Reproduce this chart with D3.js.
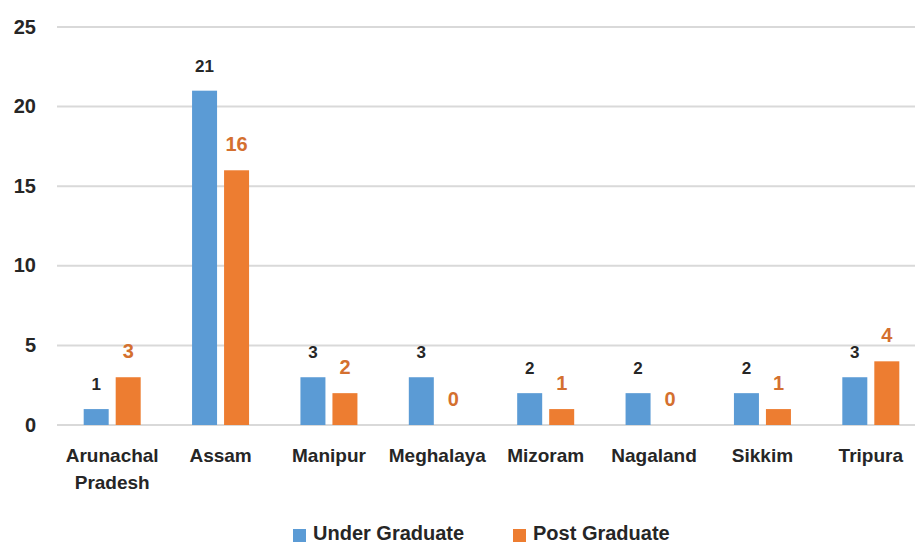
<!DOCTYPE html>
<html>
<head>
<meta charset="utf-8">
<script src="https://cdn.jsdelivr.net/npm/d3@7"></script>
<style>
  html, body { margin: 0; padding: 0; background: #fff; }
  svg { display: block; font-family: "Liberation Sans", Arial, sans-serif; }
</style>
</head>
<body>
<svg id="chart" width="915" height="543"></svg>
<script>
// Institutions by state and level of programme
const states = ["Arunachal Pradesh", "Assam", "Manipur", "Meghalaya", "Mizoram", "Nagaland", "Sikkim", "Tripura"];
const underGraduate = [1, 21, 3, 3, 2, 2, 2, 3];
const postGraduate = [3, 16, 2, 0, 1, 0, 1, 4];
const seriesNames = ["Under Graduate", "Post Graduate"];
const yTicks = [0, 5, 10, 15, 20, 25];

const colors = { "Under Graduate": "#5b9bd5", "Post Graduate": "#ed7d31" };
const labelColors = { "Under Graduate": "#262626", "Post Graduate": "#d4702f" };

const svg = d3.select("#chart");
const W = 915;

const x0 = d3.scaleBand().domain(states).range([58, 925]).padding(0);
const x1 = d3.scaleBand().domain(seriesNames).range([0, 57]).paddingInner(7 / 32).paddingOuter(0);
const y = d3.scaleLinear().domain([0, 25]).range([425, 27]);

// gridlines
svg.append("g").selectAll("line").data(yTicks).join("line")
  .attr("x1", 57).attr("x2", W)
  .attr("y1", d => y(d)).attr("y2", d => y(d))
  .attr("stroke", "#d9d9d9").attr("stroke-width", 2);

// y-axis labels
const yAxis = d3.axisLeft(y).tickValues(yTicks).tickSize(0).tickPadding(0);
const yg = svg.append("g").attr("transform", "translate(36,0)").call(yAxis);
yg.select(".domain").remove();
yg.selectAll("text")
  .attr("font-family", "Liberation Sans, Arial, sans-serif")
  .attr("font-weight", "bold").attr("font-size", 20).attr("fill", "#262626")
  .attr("dy", "0.3em");

const rows = states.map((s, i) => ({ state: s, values: [
  { key: "Under Graduate", value: underGraduate[i] },
  { key: "Post Graduate", value: postGraduate[i] }
]}));

const offset = (x0.bandwidth() - 57) / 2;
const groups = svg.append("g").selectAll("g").data(rows).join("g")
  .attr("transform", d => `translate(${x0(d.state) + offset},0)`);

groups.selectAll("rect").data(d => d.values.filter(v => v.value > 0)).join("rect")
  .attr("x", d => x1(d.key))
  .attr("width", x1.bandwidth())
  .attr("y", d => y(d.value))
  .attr("height", d => y(0) - y(d.value))
  .attr("fill", d => colors[d.key]);

groups.selectAll("text.val").data(d => d.values).join("text")
  .attr("class", "val")
  .attr("x", d => x1(d.key) + x1.bandwidth() / 2)
  .attr("y", d => y(d.value) - 19)
  .attr("text-anchor", "middle")
  .attr("font-weight", "bold")
  .attr("font-size", d => d.key === "Post Graduate" ? 20 : 17)
  .attr("fill", d => labelColors[d.key])
  .text(d => d.value);

// category labels
const xAxis = d3.axisBottom(x0).tickSize(0).tickPadding(0);
const xg = svg.append("g").attr("transform", "translate(0,0)").call(xAxis);
xg.select(".domain").remove();
xg.selectAll(".tick text").each(function(d) {
  const t = d3.select(this);
  t.text(null).attr("y", 0).attr("dy", null)
    .attr("font-family", "Liberation Sans, Arial, sans-serif")
    .attr("font-weight", "bold").attr("font-size", 19).attr("fill", "#262626");
  const words = d === "Arunachal Pradesh" ? ["Arunachal", "Pradesh"] : [d];
  words.forEach((w, i) => {
    t.append("tspan").attr("x", 0).attr("y", 462 + i * 27).text(w);
  });
});

// legend
const legendItems = [
  { key: "Under Graduate", x: 293 },
  { key: "Post Graduate", x: 513 }
];
const lg = svg.append("g").selectAll("g").data(legendItems).join("g")
  .attr("transform", d => `translate(${d.x},0)`);
lg.append("rect").attr("x", 0).attr("y", 529).attr("width", 13).attr("height", 13)
  .attr("fill", d => colors[d.key]);
lg.append("text").attr("x", 20).attr("y", 540)
  .attr("font-weight", "bold").attr("font-size", 20).attr("fill", "#262626")
  .text(d => d.key);
</script>
</body>
</html>
